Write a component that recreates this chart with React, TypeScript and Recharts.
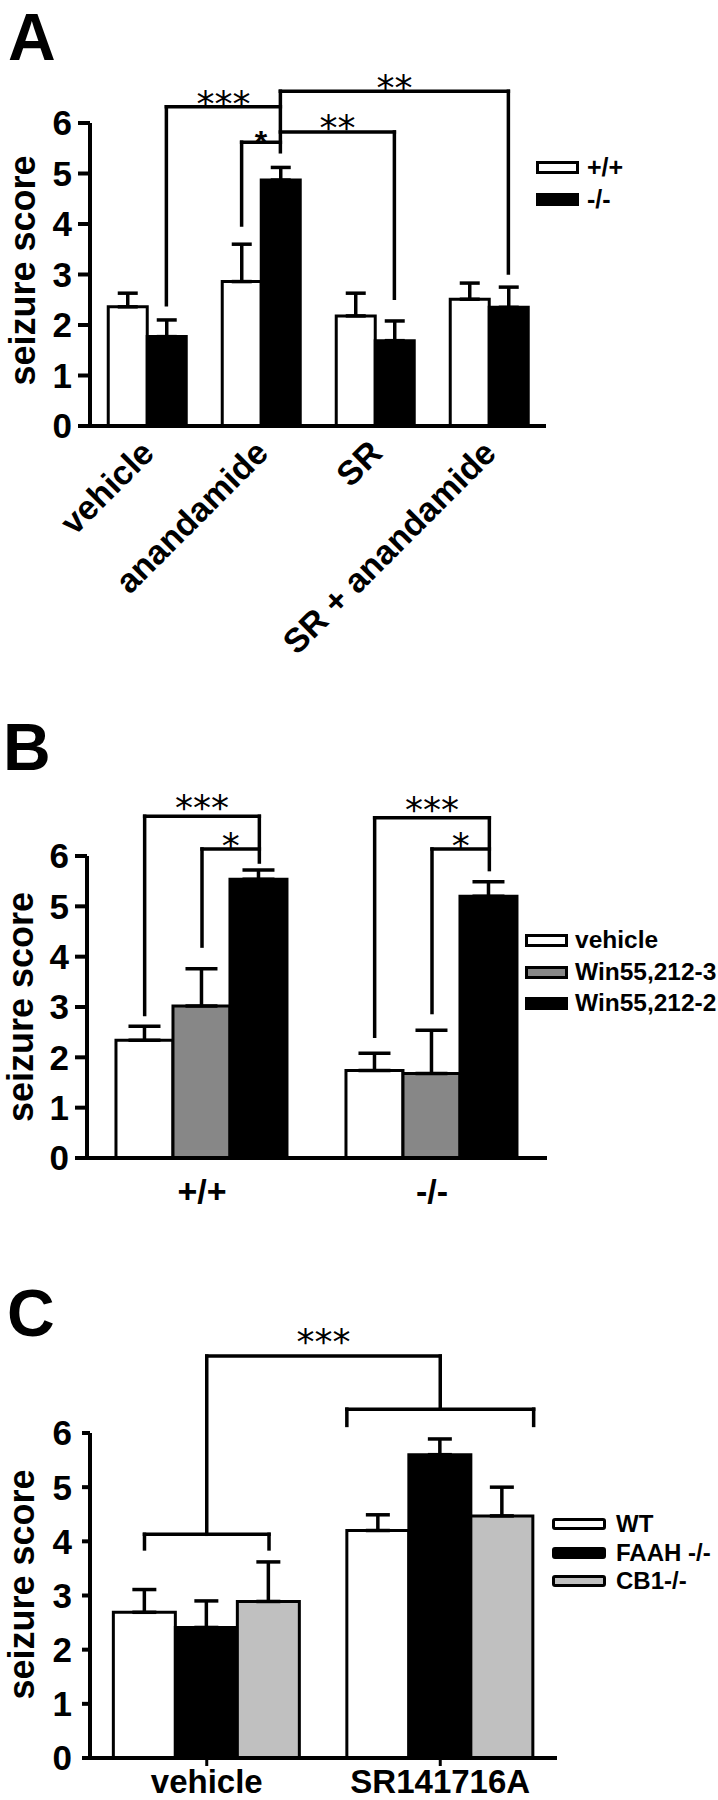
import React from "react";
import {
  Bar,
  BarChart,
  ErrorBar,
  Label,
  ReferenceDot,
  ReferenceLine,
  XAxis,
  YAxis,
} from "recharts";

const SANS = '"Liberation Sans", Arial, Helvetica, sans-serif';
const STAR = '"DejaVu Sans", sans-serif';
const INK = "#000000";
const PAGE_W = 718;
const Y_TICKS = [0, 1, 2, 3, 4, 5, 6];

// ---- panel A: anandamide / SR
const A_CATEGORIES = ["vehicle", "anandamide", "SR", "SR + anandamide"];
const A_NAMES = ["+/+", "-/-"];
const A_WT = [2.36, 2.86, 2.18, 2.51];
const A_WT_ERR = [0.27, 0.74, 0.45, 0.32];
const A_KO = [1.77, 4.87, 1.69, 2.35];
const A_KO_ERR = [0.33, 0.25, 0.39, 0.4];

// ---- panel B: Win55,212
const B_CATEGORIES = ["+/+", "-/-"];
const B_NAMES = ["vehicle", "Win55,212-3", "Win55,212-2"];
const B_VEH = [2.34, 1.74];
const B_VEH_ERR = [0.28, 0.34];
const B_W3 = [3.02, 1.68];
const B_W3_ERR = [0.74, 0.86];
const B_W2 = [5.54, 5.2];
const B_W2_ERR = [0.18, 0.29];

// ---- panel C: SR141716A
const C_CATEGORIES = ["vehicle", "SR141716A"];
const C_NAMES = ["WT", "FAAH -/-", "CB1-/-"];
const C_WT = [2.69, 4.2];
const C_WT_ERR = [0.42, 0.29];
const C_FAAH = [2.41, 5.6];
const C_FAAH_ERR = [0.49, 0.29];
const C_CB1 = [2.89, 4.47];
const C_CB1_ERR = [0.73, 0.53];

type Series = { name: string; fill: string; values: number[]; errors: number[] };

// from/to = [category index, bar slot]; y values in seizure-score units
type Bracket = {
  from: [number, number];
  to: [number, number];
  y: number;
  dropFrom?: number;
  dropTo?: number;
  text?: string;
  bold?: boolean;
  lift?: number;
};

const A_BRACKETS: Bracket[] = [
  { from: [0, 1], to: [1, 1], y: 6.32, dropFrom: 2.4, text: "***", lift: 11 },
  { from: [1, 1], to: [3, 1], y: 6.63, dropFrom: 5.43, dropTo: 3.03, text: "**", lift: 11 },
  { from: [1, 0], to: [1, 1], y: 5.62, dropFrom: 3.98, text: "*", bold: true, lift: 8.5 },
  { from: [1, 1], to: [2, 1], y: 5.82, dropTo: 2.53, text: "**", lift: 12 },
];

const B_BRACKETS: Bracket[] = [
  { from: [0, 0], to: [0, 2], y: 6.79, dropFrom: 2.85, dropTo: 5.88, text: "***", lift: 16 },
  { from: [0, 1], to: [0, 2], y: 6.14, dropFrom: 4.21, text: "*", lift: 11.5 },
  { from: [1, 0], to: [1, 2], y: 6.76, dropFrom: 2.42, dropTo: 5.73, text: "***", lift: 16 },
  { from: [1, 1], to: [1, 2], y: 6.14, dropFrom: 2.89, text: "*", lift: 11.5 },
];

const C_BRACKETS: Bracket[] = [
  { from: [0, 0], to: [0, 2], y: 4.13, dropFrom: 3.86, dropTo: 3.86 },
  { from: [1, -0.5], to: [1, 2.5], y: 6.44, dropFrom: 6.14, dropTo: 6.14 },
  { from: [0, 1], to: [1, 1], y: 7.42, dropFrom: 4.13, dropTo: 6.44, text: "***", lift: 22 },
];

type LegendCfg = {
  left: number;
  top: number;
  row: number;
  boxW: number;
  boxH: number;
  radius: number;
  gap: number;
  fontSize: number;
};

type PanelCfg = {
  letter: string;
  letterLeft: number;
  letterTop: number;
  top: number;
  height: number;
  plotLeft: number;
  plotRight: number;
  y6: number;
  y0: number;
  categories: string[];
  series: Series[];
  gap: number;
  brackets: Bracket[];
  capHalf: number;
  yTickSize: number;
  yTickMargin: number;
  rotated: boolean;
  xTickLine: number;
  xLabelDx: number;
  xLabelDy: number;
  xLabelSize: number;
  yLabelX: number;
  yLabelShift: number;
  legend: LegendCfg;
};

const PANELS: PanelCfg[] = [
  {
    letter: "A",
    letterLeft: 8,
    letterTop: 0,
    top: 0,
    height: 700,
    plotLeft: 90,
    plotRight: 546,
    y6: 123,
    y0: 426,
    categories: A_CATEGORIES,
    series: [
      { name: A_NAMES[0], fill: "#ffffff", values: A_WT, errors: A_WT_ERR },
      { name: A_NAMES[1], fill: "#000000", values: A_KO, errors: A_KO_ERR },
    ],
    gap: 0.16,
    brackets: A_BRACKETS,
    capHalf: 10,
    yTickSize: 12,
    yTickMargin: 6,
    rotated: true,
    xTickLine: 0,
    xLabelDx: 9,
    xLabelDy: 29,
    xLabelSize: 34,
    yLabelX: 35,
    yLabelShift: 4,
    legend: { left: 536, top: 151.5, row: 32, boxW: 43, boxH: 13, radius: 0, gap: 8, fontSize: 25 },
  },
  {
    letter: "B",
    letterLeft: 3,
    letterTop: 710,
    top: 700,
    height: 540,
    plotLeft: 87,
    plotRight: 547,
    y6: 856,
    y0: 1158,
    categories: B_CATEGORIES,
    series: [
      { name: B_NAMES[0], fill: "#ffffff", values: B_VEH, errors: B_VEH_ERR },
      { name: B_NAMES[1], fill: "#878787", values: B_W3, errors: B_W3_ERR },
      { name: B_NAMES[2], fill: "#000000", values: B_W2, errors: B_W2_ERR },
    ],
    gap: 0.126,
    brackets: B_BRACKETS,
    capHalf: 16,
    yTickSize: 12,
    yTickMargin: 6,
    rotated: false,
    xTickLine: 0,
    xLabelDx: 0,
    xLabelDy: 45,
    xLabelSize: 34,
    yLabelX: 33,
    yLabelShift: 0,
    legend: { left: 525, top: 924.75, row: 31.5, boxW: 43, boxH: 13, radius: 0, gap: 7, fontSize: 24.5 },
  },
  {
    letter: "C",
    letterLeft: 7,
    letterTop: 1276,
    top: 1240,
    height: 560,
    plotLeft: 90,
    plotRight: 557,
    y6: 1433,
    y0: 1758,
    categories: C_CATEGORIES,
    series: [
      { name: C_NAMES[0], fill: "#ffffff", values: C_WT, errors: C_WT_ERR },
      { name: C_NAMES[1], fill: "#000000", values: C_FAAH, errors: C_FAAH_ERR },
      { name: C_NAMES[2], fill: "#c0c0c0", values: C_CB1, errors: C_CB1_ERR },
    ],
    gap: 0.1,
    brackets: C_BRACKETS,
    capHalf: 12,
    yTickSize: 8,
    yTickMargin: 10,
    rotated: false,
    xTickLine: 8,
    xLabelDx: 0,
    xLabelDy: 35,
    xLabelSize: 33,
    yLabelX: 34,
    yLabelShift: 11,
    legend: { left: 552, top: 1510, row: 28.5, boxW: 54, boxH: 12, radius: 3, gap: 10, fontSize: 24 },
  },
];

function Legend({ c }: { c: PanelCfg }) {
  const l = c.legend;
  return (
    <div style={{ position: "absolute", left: l.left, top: l.top }}>
      {c.series.map((s) => (
        <div
          key={s.name}
          style={{ display: "flex", alignItems: "center", height: l.row, whiteSpace: "nowrap" }}
        >
          <span
            style={{
              display: "inline-block",
              boxSizing: "border-box",
              width: l.boxW,
              height: l.boxH,
              border: `3px solid ${INK}`,
              borderRadius: l.radius,
              background: s.fill,
            }}
          />
          <span
            style={{
              marginLeft: l.gap,
              fontFamily: SANS,
              fontWeight: 700,
              fontSize: l.fontSize,
              lineHeight: 1,
              color: INK,
            }}
          >
            {s.name}
          </span>
        </div>
      ))}
    </div>
  );
}

function Panel({ c }: { c: PanelCfg }) {
  const n = c.series.length;
  const data = c.categories.map((cat, i) => {
    const row: Record<string, unknown> = { cat, pos: i + 0.5 };
    c.series.forEach((s, k) => {
      row[`v${k}`] = s.values[i];
      row[`e${k}`] = [0, s.errors[i]];
    });
    return row;
  });

  // bar slot -> position on the hidden 0..n category-unit axis
  const slot = (cat: number, k: number) => cat + c.gap + ((k + 0.5) * (1 - 2 * c.gap)) / n;

  const marginTop = c.y6 - c.top;
  const plotBottom = c.y0 - c.top;
  const xAxisH = c.height - plotBottom;

  const renderTick = (p: any) => {
    const x = p.x + c.xLabelDx;
    const y = p.y + c.xLabelDy - c.xTickLine;
    const common = {
      fontFamily: SANS,
      fontWeight: 700,
      fontSize: c.xLabelSize,
      fill: INK,
    };
    if (c.rotated) {
      return (
        <text transform={`translate(${x},${y}) rotate(-45)`} textAnchor="end" {...common}>
          {p.payload.value}
        </text>
      );
    }
    return (
      <text x={x} y={y} textAnchor="middle" {...common}>
        {p.payload.value}
      </text>
    );
  };

  const lines: React.ReactNode[] = [];
  const labels: React.ReactNode[] = [];
  c.brackets.forEach((b, i) => {
    const x1 = slot(b.from[0], b.from[1]);
    const x2 = slot(b.to[0], b.to[1]);
    const segs: [number, number, number, number][] = [[x1, b.y, x2, b.y]];
    if (b.dropFrom !== undefined) segs.push([x1, b.y, x1, b.dropFrom]);
    if (b.dropTo !== undefined) segs.push([x2, b.y, x2, b.dropTo]);
    segs.forEach((s, j) => {
      lines.push(
        <ReferenceLine
          key={`l${i}-${j}`}
          xAxisId="pos"
          segment={[
            { x: s[0], y: s[1] },
            { x: s[2], y: s[3] },
          ]}
          stroke={INK}
          strokeWidth={3.5}
          strokeLinecap="square"
          ifOverflow="visible"
        />
      );
    });
    if (b.text) {
      const fs = b.bold ? 32 : 36;
      const center = b.bold ? 0.59 * fs : 0.56 * fs;
      labels.push(
        <ReferenceDot
          key={`t${i}`}
          xAxisId="pos"
          x={(x1 + x2) / 2}
          y={b.y}
          r={0}
          ifOverflow="visible"
          shape={(p: any) => (
            <text
              x={p.cx}
              y={p.cy - (b.lift ?? 11) + center}
              textAnchor="middle"
              fontFamily={b.bold ? SANS : STAR}
              fontWeight={b.bold ? 700 : 400}
              fontSize={fs}
              fill={INK}
            >
              {b.text}
            </text>
          )}
        />
      );
    }
  });

  const yLabel = (
    <Label
      content={() => {
        const cy = (marginTop + plotBottom) / 2 - c.yLabelShift;
        return (
          <text
            x={c.yLabelX}
            y={cy}
            transform={`rotate(-90, ${c.yLabelX}, ${cy})`}
            textAnchor="middle"
            fontFamily={SANS}
            fontWeight={700}
            fontSize={36}
            fill={INK}
          >
            seizure score
          </text>
        );
      }}
    />
  );

  return (
    <>
      <div
        style={{
          position: "absolute",
          left: c.letterLeft,
          top: c.letterTop,
          fontFamily: SANS,
          fontWeight: 700,
          fontSize: 66,
          lineHeight: "74px",
          color: INK,
        }}
      >
        {c.letter}
      </div>
      <div style={{ position: "absolute", left: 0, top: c.top }}>
        <BarChart
          width={PAGE_W}
          height={c.height}
          data={data}
          margin={{ top: marginTop, right: PAGE_W - c.plotRight, bottom: 0, left: 0 }}
          barCategoryGap={`${c.gap * 100}%`}
          barGap={0}
        >
          <XAxis
            dataKey="cat"
            height={xAxisH}
            interval={0}
            axisLine={{ stroke: INK, strokeWidth: 4 }}
            tickLine={c.xTickLine ? { stroke: INK, strokeWidth: 3 } : false}
            tickSize={c.xTickLine}
            tickMargin={0}
            tick={renderTick}
          />
          <XAxis
            xAxisId="pos"
            dataKey="pos"
            type="number"
            domain={[0, c.categories.length]}
            allowDataOverflow
            hide
          />
          <YAxis
            width={c.plotLeft}
            domain={[0, 6]}
            ticks={Y_TICKS}
            allowDataOverflow
            interval={0}
            axisLine={{ stroke: INK, strokeWidth: 4 }}
            tickLine={{ stroke: INK, strokeWidth: 4 }}
            tickSize={c.yTickSize}
            tickMargin={c.yTickMargin}
            tick={{ fill: INK, fontSize: 35, fontWeight: 700, fontFamily: SANS }}
            label={yLabel}
          />
          {c.series.map((s, k) => (
            <Bar
              key={s.name}
              dataKey={`v${k}`}
              name={s.name}
              fill={s.fill}
              stroke={INK}
              strokeWidth={3}
              isAnimationActive={false}
            >
              <ErrorBar
                dataKey={`e${k}`}
                direction="y"
                width={c.capHalf}
                stroke={INK}
                strokeWidth={3.5}
                isAnimationActive={false}
              />
            </Bar>
          ))}
          {lines}
          {labels}
        </BarChart>
      </div>
      <Legend c={c} />
    </>
  );
}

export default function App() {
  return (
    <div
      style={{
        position: "absolute",
        left: 0,
        top: 0,
        width: PAGE_W,
        height: 1800,
        background: "#ffffff",
        overflow: "hidden",
      }}
    >
      {PANELS.map((p) => (
        <Panel key={p.letter} c={p} />
      ))}
    </div>
  );
}
